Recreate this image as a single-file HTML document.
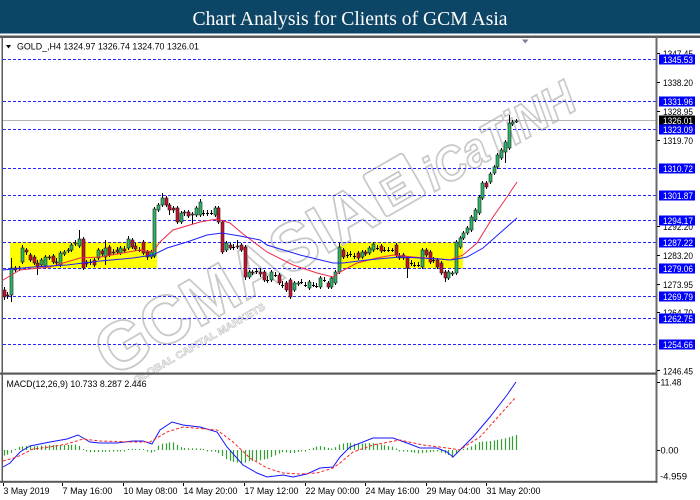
<!DOCTYPE html>
<html>
<head>
<meta charset="utf-8">
<style>
html,body{margin:0;padding:0;background:#fff;}
svg{display:block;}
</style>
</head>
<body>
<svg id="s" width="700" height="500" viewBox="0 0 700 500" xmlns="http://www.w3.org/2000/svg" font-family="'Liberation Sans', sans-serif">
<rect x="0" y="0" width="700" height="500" fill="#fff"/>
<!-- title -->
<rect x="0" y="0" width="700" height="33.5" fill="#0d4566"/>
<text x="350" y="25" text-anchor="middle" font-family="'Liberation Serif', serif" font-size="20" fill="#fff" textLength="315" lengthAdjust="spacingAndGlyphs">Chart Analysis for Clients of GCM Asia</text>
<rect x="0" y="35.5" width="700" height="2.5" fill="#5a5a5a"/>

<!-- yellow zones -->
<rect x="10" y="242" width="147" height="26.5" fill="#ffff00"/>
<rect x="339" y="242" width="124" height="26.5" fill="#ffff00"/>

<!-- watermark -->
<g transform="translate(112,378) rotate(-30)" fill="none" stroke="#c9c9c9" stroke-width="1.8">
<text x="0" y="0" font-size="68" font-weight="bold" textLength="312" lengthAdjust="spacingAndGlyphs">GCMASIA</text>
<rect x="318" y="-50" width="46" height="48" rx="3"/>
<text x="327" y="-8" font-size="40" font-weight="bold">E</text>
<text x="372" y="0" font-size="48" font-weight="bold" font-style="italic" textLength="168" lengthAdjust="spacingAndGlyphs">iCaTiNH</text>
<text x="18" y="17" font-size="10" font-weight="bold" stroke-width="0.7" textLength="150" lengthAdjust="spacingAndGlyphs">GLOBAL CAPITAL MARKETS</text>
</g>

<!-- current price line -->
<line x1="3" y1="120.5" x2="656" y2="120.5" stroke="#b4b4b4" stroke-width="1"/>

<!-- dashed levels -->
<g stroke="#2323ff" stroke-width="1" stroke-dasharray="3,2">
<line x1="3" y1="59.5" x2="656" y2="59.5"/>
<line x1="3" y1="101.5" x2="656" y2="101.5"/>
<line x1="3" y1="129.5" x2="656" y2="129.5"/>
<line x1="3" y1="168.5" x2="656" y2="168.5"/>
<line x1="3" y1="195.5" x2="656" y2="195.5"/>
<line x1="3" y1="220.5" x2="656" y2="220.5"/>
<line x1="3" y1="242.5" x2="656" y2="242.5"/>
<line x1="3" y1="268.5" x2="656" y2="268.5"/>
<line x1="3" y1="296.5" x2="656" y2="296.5"/>
<line x1="3" y1="318.5" x2="656" y2="318.5"/>
<line x1="3" y1="344.5" x2="656" y2="344.5"/>
</g>

<!-- candles -->
<g id="cd"></g>

<!-- MAs -->
<polyline fill="none" stroke="#ef2a4a" stroke-width="1" points="3,280 20,270 50,267 80,258 100,257 140,250 153,252 160,242 173,230 200,222 217,219 230,223 243,234 267,252 293,265 317,273 333,277 340,272 357,263 377,258 393,255 413,257 440,259 450,260 463,255 477,243 493,217 507,197 517,182"/>
<polyline fill="none" stroke="#2020ff" stroke-width="1" points="3,270 33,267 67,265 100,261 133,258 153,255 167,248 187,242 207,235 222,233 240,236 260,240 267,245 300,255 333,263 343,263 367,260 400,257 440,259 450,260 457,259 467,257 483,248 500,233 517,218"/>

<!-- header -->
<polygon points="6,45 11,45 8.5,48.5" fill="#000"/>
<text x="17" y="49.5" font-size="9" fill="#000" textLength="182" lengthAdjust="spacingAndGlyphs">GOLD_,H4  1324.97 1326.74 1324.70 1326.01</text>
<polygon points="522,39.5 528.5,39.5 525.2,43.5" fill="#7a8090"/>

<!-- frame -->
<rect x="1.5" y="37" width="1.5" height="446" fill="#5a5a5a"/>
<rect x="655.5" y="37" width="2" height="446" fill="#6a6a6a"/>
<rect x="0" y="372.5" width="657" height="2.2" fill="#5a5a5a"/>
<rect x="0" y="480.8" width="657" height="2" fill="#5a5a5a"/>

<!-- price axis ticks & labels -->
<g stroke="#000" stroke-width="1">
<line x1="657" y1="53.5" x2="660" y2="53.5"/>
<line x1="657" y1="82.5" x2="660" y2="82.5"/>
<line x1="657" y1="111.5" x2="660" y2="111.5"/>
<line x1="657" y1="140.5" x2="660" y2="140.5"/>
<line x1="657" y1="226.5" x2="660" y2="226.5"/>
<line x1="657" y1="255.5" x2="660" y2="255.5"/>
<line x1="657" y1="284.5" x2="660" y2="284.5"/>
<line x1="657" y1="312.5" x2="660" y2="312.5"/>
<line x1="657" y1="370.5" x2="660" y2="370.5"/>
<line x1="657" y1="382.5" x2="660" y2="382.5"/>
<line x1="657" y1="450.5" x2="660" y2="450.5"/>
</g>
<g font-size="9.5" fill="#000">
<text x="663" y="57" textLength="30" lengthAdjust="spacingAndGlyphs">1347.45</text>
<text x="663" y="86" textLength="30" lengthAdjust="spacingAndGlyphs">1338.20</text>
<text x="663" y="115" textLength="30" lengthAdjust="spacingAndGlyphs">1328.95</text>
<text x="663" y="144" textLength="30" lengthAdjust="spacingAndGlyphs">1319.70</text>
<text x="663" y="199.5" textLength="30" lengthAdjust="spacingAndGlyphs">1301.20</text>
<text x="663" y="230" textLength="30" lengthAdjust="spacingAndGlyphs">1292.20</text>
<text x="663" y="259" textLength="30" lengthAdjust="spacingAndGlyphs">1283.20</text>
<text x="663" y="288" textLength="30" lengthAdjust="spacingAndGlyphs">1273.95</text>
<text x="663" y="316" textLength="30" lengthAdjust="spacingAndGlyphs">1264.70</text>
<text x="663" y="374.5" textLength="30" lengthAdjust="spacingAndGlyphs">1246.45</text>
<text x="660.5" y="385.5" textLength="21" lengthAdjust="spacingAndGlyphs">11.48</text>
<text x="660.5" y="453.5" textLength="18" lengthAdjust="spacingAndGlyphs">0.00</text>
<text x="660" y="479.5" textLength="27" lengthAdjust="spacingAndGlyphs">-4.959</text>
</g>
<!-- level labels -->
<g font-size="9.5" fill="#fff">
<rect x="659" y="54.5" width="36" height="10" fill="#0000ff"/><text x="663" y="63" textLength="30" lengthAdjust="spacingAndGlyphs">1345.53</text>
<rect x="659" y="96.5" width="36" height="10" fill="#0000ff"/><text x="663" y="105" textLength="30" lengthAdjust="spacingAndGlyphs">1331.96</text>
<rect x="659" y="115.5" width="36" height="10" fill="#000"/><text x="663" y="124" textLength="30" lengthAdjust="spacingAndGlyphs">1326.01</text>
<rect x="659" y="124.5" width="36" height="10" fill="#0000ff"/><text x="663" y="133" textLength="30" lengthAdjust="spacingAndGlyphs">1323.09</text>
<rect x="659" y="163.5" width="36" height="10" fill="#0000ff"/><text x="663" y="172" textLength="30" lengthAdjust="spacingAndGlyphs">1310.72</text>
<rect x="659" y="190.5" width="36" height="10" fill="#0000ff"/><text x="663" y="199" textLength="30" lengthAdjust="spacingAndGlyphs">1301.87</text>
<rect x="659" y="215.5" width="36" height="10" fill="#0000ff"/><text x="663" y="224" textLength="30" lengthAdjust="spacingAndGlyphs">1294.17</text>
<rect x="659" y="237.5" width="36" height="10" fill="#0000ff"/><text x="663" y="246" textLength="30" lengthAdjust="spacingAndGlyphs">1287.22</text>
<rect x="659" y="263.5" width="36" height="10" fill="#0000ff"/><text x="663" y="272" textLength="30" lengthAdjust="spacingAndGlyphs">1279.06</text>
<rect x="659" y="291.5" width="36" height="10" fill="#0000ff"/><text x="663" y="300" textLength="30" lengthAdjust="spacingAndGlyphs">1269.79</text>
<rect x="659" y="313.5" width="36" height="10" fill="#0000ff"/><text x="663" y="322" textLength="30" lengthAdjust="spacingAndGlyphs">1262.75</text>
<rect x="659" y="339.5" width="36" height="10" fill="#0000ff"/><text x="663" y="348" textLength="30" lengthAdjust="spacingAndGlyphs">1254.66</text>
</g>

<!-- MACD -->
<text x="6.5" y="387" font-size="9.5" fill="#000" textLength="140" lengthAdjust="spacingAndGlyphs">MACD(12,26,9) 10.733 8.287 2.446</text>
<g id="hist"></g>
<polyline fill="none" stroke="#1515ff" stroke-width="1" points="3,467 10,463 20,452 30,446 50,442 67,439 78,435 90,442 100,443 117,443 133,441 143,441 152,444 160,430 172,422 183,425 200,427 217,432 227,447 243,465 257,473 267,477 283,475 293,477 307,474 320,468 333,467 340,457 350,447 373,438 393,438 407,443 420,448 437,448 447,452 453,457 460,450 473,437 490,417 507,395 516,382"/>
<polyline fill="none" stroke="#ff2020" stroke-width="1" stroke-dasharray="3,2" points="3,461 17,457 33,449 50,447 67,444 83,439 100,441 133,442 150,442 167,432 183,427 217,430 233,442 250,458 267,468 283,473 300,474 317,473 333,468 340,463 353,452 373,445 400,440 423,445 447,448 460,450 467,445 480,437 497,418 516,397"/>

<!-- time axis -->
<g stroke="#000" stroke-width="1">
<line x1="3.5" y1="483" x2="3.5" y2="486"/>
<line x1="62.5" y1="483" x2="62.5" y2="486"/>
<line x1="123.5" y1="483" x2="123.5" y2="486"/>
<line x1="183.5" y1="483" x2="183.5" y2="486"/>
<line x1="244.5" y1="483" x2="244.5" y2="486"/>
<line x1="305.5" y1="483" x2="305.5" y2="486"/>
<line x1="365.5" y1="483" x2="365.5" y2="486"/>
<line x1="426.5" y1="483" x2="426.5" y2="486"/>
<line x1="486.5" y1="483" x2="486.5" y2="486"/>
</g>
<g font-size="9.5" fill="#000">
<text x="3.5" y="494" textLength="46" lengthAdjust="spacingAndGlyphs">3 May 2019</text>
<text x="62.5" y="494" textLength="50" lengthAdjust="spacingAndGlyphs">7 May 16:00</text>
<text x="123.5" y="494" textLength="54" lengthAdjust="spacingAndGlyphs">10 May 08:00</text>
<text x="183.5" y="494" textLength="54" lengthAdjust="spacingAndGlyphs">14 May 20:00</text>
<text x="244.5" y="494" textLength="54" lengthAdjust="spacingAndGlyphs">17 May 12:00</text>
<text x="305.5" y="494" textLength="54" lengthAdjust="spacingAndGlyphs">22 May 00:00</text>
<text x="365.5" y="494" textLength="54" lengthAdjust="spacingAndGlyphs">24 May 16:00</text>
<text x="426.5" y="494" textLength="54" lengthAdjust="spacingAndGlyphs">29 May 04:00</text>
<text x="486.5" y="494" textLength="54" lengthAdjust="spacingAndGlyphs">31 May 20:00</text>
</g>
</svg>
<script>
(function(){
var D=[
[290,297,287,300],[295,296,292,299],[295,268,258,302],[268,270,266,272],[269,268,266,271],
[262,248,245,264],[250,252,248,255],[255,260,253,262],[257,263,255,265],[263,267,260,275],
[265,260,258,267],[266,257,255,268],[257,258,255,260],[256,262,254,264],[262,263,258,266],
[265,253,251,267],[254,252,250,256],[251,250,248,253],[250,245,243,252],[244,243,240,246],
[246,239,230,248],[239,268,237,270],[262,264,260,267],[262,262,259,265],[260,265,258,267],
[258,250,248,260],[251,254,249,256],[257,248,240,265],[247,255,245,257],[252,253,249,255],
[250,252,247,254],[253,248,246,255],[249,251,246,253],[248,239,236,250],[240,247,238,249],
[246,249,243,251],[250,250,247,252],[242,253,240,255],[252,257,250,260],[257,252,250,259],
[256,209,207,258],[210,205,203,212],[205,198,193,207],[198,205,196,207],[205,210,203,215],
[208,210,206,213],[208,222,206,224],[222,213,211,224],[212,213,210,216],[212,216,210,218],
[214,215,212,224],[215,208,206,217],[215,202,199,217],[213,213,210,216],[213,213,210,216],
[213,213,210,215],[215,208,206,217],[208,222,206,224],[222,252,220,254],[250,243,241,252],
[245,248,243,250],[247,247,244,250],[246,247,240,249],[245,250,243,252],[247,277,245,280],
[277,272,270,279],[272,273,270,275],[271,271,268,274],[272,274,268,277],[272,280,270,282],
[280,280,276,283],[280,272,270,282],[275,275,272,277],[275,283,273,285],[285,285,281,288],
[283,290,281,292],[280,297,278,299],[290,283,281,292],[284,283,281,286],[282,282,279,284],
[285,285,282,287],[288,282,280,290],[285,285,282,287],[286,286,283,288],[287,278,276,289],
[280,280,277,282],[283,287,281,289],[287,278,276,289],[283,272,270,285],[272,247,243,274],
[250,257,248,259],[255,255,252,258],[254,254,251,257],[256,256,253,259],[253,258,251,260],
[257,252,250,259],[252,254,250,256],[253,248,246,255],[250,244,242,252],[248,248,245,250],
[246,251,244,253],[250,250,247,252],[250,250,247,252],[250,250,248,252],[245,255,243,257],
[256,258,253,260],[255,258,253,260],[258,268,256,278],[263,263,260,266],[265,265,262,267],
[265,265,262,267],[267,250,248,269],[250,255,248,257],[252,262,250,264],[260,260,257,263],
[260,267,258,269],[263,273,261,275],[272,278,270,282],[278,272,270,280],[274,273,271,276],
[273,242,240,275],[247,238,236,249],[238,233,231,240],[233,228,226,235],[230,217,215,232],
[220,210,208,222],[213,197,195,215],[198,183,181,200],[183,187,181,189],[182,174,172,184],
[173,167,165,175],[167,155,153,169],[158,150,148,160],[152,142,140,163],[148,123,115,150],
[124,122,120,126],[122,121,119,123]];
var s='';
for(var i=0;i<D.length;i++){
 var x=Math.round(3.5+3.77*i),o=D[i][0],c=D[i][1],h=D[i][2],l=D[i][3];
 s+='<line x1="'+(x+0.5)+'" y1="'+h+'" x2="'+(x+0.5)+'" y2="'+l+'" stroke="#000" stroke-width="1"/>';
 if(Math.abs(o-c)<1){
  s+='<line x1="'+(x-1)+'" y1="'+(o+0.5)+'" x2="'+(x+2)+'" y2="'+(o+0.5)+'" stroke="#000" stroke-width="1"/>';
 }else{
  var t=Math.min(o,c),hh=Math.abs(o-c);
  s+='<rect x="'+(x-1)+'" y="'+t+'" width="3" height="'+hh+'" fill="'+(c<o?'#2ab768':'#c8102e')+'" stroke="#1e1e1e" stroke-width="0.6"/>';
 }
}
document.getElementById('cd').innerHTML=s;
function pts(str){return str.trim().split(/\s+/).map(function(p){var a=p.split(',');return[+a[0],+a[1]];});}
var M=pts("3,467 10,463 20,452 30,446 50,442 67,439 78,435 90,442 100,443 117,443 133,441 143,441 152,444 160,430 172,422 183,425 200,427 217,432 227,447 243,465 257,473 267,477 283,475 293,477 307,474 320,468 333,467 340,457 350,447 373,438 393,438 407,443 420,448 437,448 447,452 453,457 460,450 473,437 490,417 507,395 516,382");
var S=pts("3,461 17,457 33,449 50,447 67,444 83,439 100,441 133,442 150,442 167,432 183,427 217,430 233,442 250,458 267,468 283,473 300,474 317,473 333,468 340,463 353,452 373,445 400,440 423,445 447,448 460,450 467,445 480,437 497,418 516,397");
function ip(P,x){if(x<=P[0][0])return P[0][1];for(var k=1;k<P.length;k++){if(x<=P[k][0]){var a=P[k-1],b=P[k];return a[1]+(b[1]-a[1])*(x-a[0])/(b[0]-a[0]);}}return P[P.length-1][1];}
var hs='';
for(var j=0;j<137;j++){
 var xx=Math.round(3.5+3.77*j)+0.5;
 var v=ip(M,xx)-ip(S,xx);
 var y2=450+v;
 if(Math.abs(v)<1){y2=v<0?449:451.5;}
 hs+='<line x1="'+xx+'" y1="450" x2="'+xx+'" y2="'+y2.toFixed(1)+'" stroke="#32a032" stroke-width="1.2"/>';
}
document.getElementById('hist').innerHTML=hs;
})();
</script>
</body>
</html>
